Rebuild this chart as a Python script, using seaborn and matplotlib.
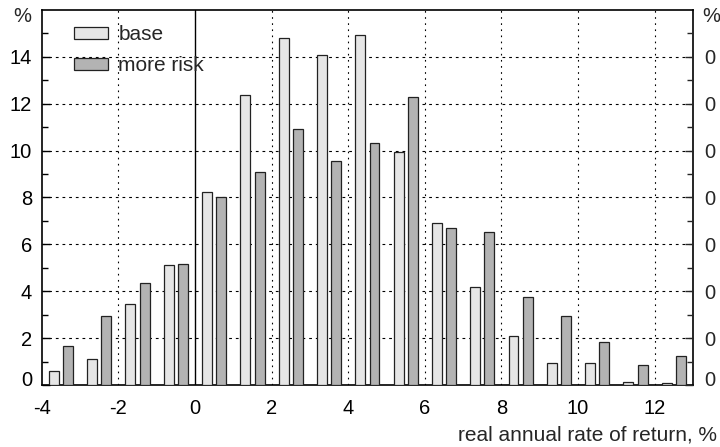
import matplotlib
matplotlib.use("Agg")
import matplotlib.pyplot as plt
import matplotlib.transforms as mtrans
import seaborn as sns
import pandas as pd
from matplotlib.ticker import MultipleLocator, FixedLocator, FixedFormatter
from matplotlib.patches import Patch

bin_centers = [-3.5, -2.5, -1.5, -0.5, 0.5, 1.5, 2.5, 3.5, 4.5, 5.5, 6.5, 7.5, 8.5, 9.5, 10.5, 11.5, 12.5]
base = [0.60, 1.10, 3.44, 5.11, 8.22, 12.36, 14.81, 14.07, 14.94, 9.96, 6.90, 4.20, 2.10, 0.95, 0.95, 0.14, 0.10]
more_risk = [1.66, 2.96, 4.35, 5.15, 8.01, 9.10, 10.91, 9.56, 10.34, 12.30, 6.69, 6.54, 3.74, 2.94, 1.85, 0.85, 1.25]
series_names = ["base", "more risk"]
colors = ["#e6e6e6", "#b3b3b3"]
x_ticks = [-4, -2, 0, 2, 4, 6, 8, 10, 12]
y_ticks = [0, 2, 4, 6, 8, 10, 12, 14]

df = pd.DataFrame({
    "x": bin_centers * 2,
    "value": base + more_risk,
    "series": [series_names[0]] * len(base) + [series_names[1]] * len(more_risk),
})

sns.set_style("white")
plt.rcParams["font.family"] = ["Liberation Sans", "DejaVu Sans"]
plt.rcParams["axes.unicode_minus"] = False
FS = 15
TFS = 14.5

fig = plt.figure(figsize=(7.2, 4.47), dpi=100)
ax = fig.add_axes([0.058, 0.1387, 0.9045, 0.839])

sns.barplot(data=df, x="x", y="value", hue="series", native_scale=True,
            palette=dict(zip(series_names, colors)), width=0.74, gap=0.3,
            edgecolor="#222222", linewidth=0.9, errorbar=None, ax=ax, legend=False, zorder=3)

ax.set_xlim(-4, 13)
ax.set_ylim(0, 16)
ax.set_xlabel("")
ax.set_ylabel("")

ax.xaxis.set_major_locator(FixedLocator(x_ticks))
ax.xaxis.set_minor_locator(MultipleLocator(1))
ax.yaxis.set_major_locator(FixedLocator(y_ticks))
ax.yaxis.set_minor_locator(FixedLocator(list(range(1, 16, 2))))
ax.tick_params(axis="both", which="major", direction="in", length=6, width=1, color="black",
               labelsize=TFS, labelcolor="black")
ax.tick_params(axis="both", which="minor", direction="in", length=4, width=1, color="black")
ax.tick_params(axis="x", which="both", top=False, pad=10)
ax.tick_params(axis="y", which="both", left=True, right=False, pad=7)

for s in ax.spines.values():
    s.set_color("black")
    s.set_linewidth(1.2)
    s.set_visible(True)

# grid
for yv in y_ticks[1:]:
    ax.axhline(yv, color="black", lw=0.8, ls=(0, (2.5, 3.5)), zorder=1)
for xv in [v for v in x_ticks if v not in (-4, 0)]:
    ax.axvline(xv, color="black", lw=0.8, ls=(0, (1.5, 4)), zorder=1)
ax.axvline(0, color="black", lw=1.0, zorder=1)

# right axis
ax2 = ax.twinx()
ax2.set_ylim(0, 16)
ax2.yaxis.set_major_locator(FixedLocator(y_ticks))
ax2.yaxis.set_major_formatter(FixedFormatter(["0"] * len(y_ticks)))
ax2.yaxis.set_minor_locator(FixedLocator(list(range(1, 16, 2))))
ax2.tick_params(axis="y", which="major", direction="in", length=6, width=1, labelsize=TFS, pad=8)
ax2.tick_params(axis="y", which="minor", direction="in", length=4, width=1)
for s in ax2.spines.values():
    s.set_visible(False)

fig.canvas.draw()
raise_off = mtrans.ScaledTranslation(0, 7 / 100, fig.dpi_scale_trans)
for a in (ax, ax2):
    lbl = [t for t in a.get_yticklabels() if t.get_position()[1] == 0]
    for t in lbl:
        t.set_transform(t.get_transform() + raise_off)

handles = [Patch(facecolor=c, edgecolor="#222222", linewidth=0.9, label=n) for n, c in zip(series_names, colors)]
ax.legend(handles=handles, loc="upper left", bbox_to_anchor=(0.049, 0.96), frameon=False,
          handlelength=1.65, handleheight=0.5, handletextpad=0.5, labelspacing=0.6,
          fontsize=FS, borderaxespad=0.0, borderpad=0.0)

fig.text(0.031, 0.962, "%", ha="center", va="center", fontsize=TFS)
fig.text(0.988, 0.962, "%", ha="center", va="center", fontsize=TFS)
fig.text(0.996, 0.027, "real annual rate of return, %", ha="right", va="center", fontsize=FS)

fig.savefig("out.png", dpi=100)
